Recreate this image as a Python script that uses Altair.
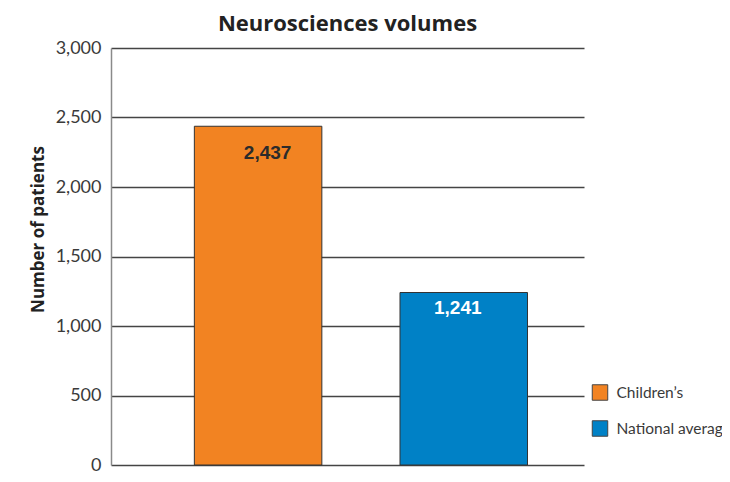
import altair as alt
import pandas as pd

groups = ["Children\u2019s", "National average"]
values = [2437, 1241]
labels = ["2,437", "1,241"]
colors = ["#F28322", "#0081C6"]
tick_values = [0, 500, 1000, 1500, 2000, 2500, 3000]

df = pd.DataFrame({"group": groups, "value": values, "label": labels})

x = alt.X("group:N", sort=groups, axis=None,
          scale=alt.Scale(paddingInner=0.38, paddingOuter=0.34, align=0.596))
y_scale = alt.Scale(domain=[0, 3000], nice=False)

bars = alt.Chart(df).mark_bar(stroke="#333333", strokeWidth=1).encode(
    x=x,
    y=alt.Y("value:Q", scale=y_scale,
            axis=alt.Axis(title="Number of patients", values=tick_values,
                          format=",.0f", grid=True, gridColor="#444444", gridWidth=1.3,
                          ticks=False, domainColor="#8a8a8a", domainWidth=1.5,
                          labelFont="Lato", labelFontSize=18, labelColor="#3a3a3a",
                          labelPadding=10,
                          titleFont="Open Sans", titleFontSize=17, titleFontWeight="bold",
                          titleColor="#222222", titleX=-73, titleY=181,
                          titleBaseline="middle", titleAngle=270)),
    color=alt.Color("group:N", sort=groups,
                    scale=alt.Scale(domain=groups, range=colors),
                    legend=alt.Legend(title=None, orient="none", legendX=480.5, legendY=336,
                                      symbolType="square", symbolSize=240,
                                      symbolStrokeColor="#444444", symbolStrokeWidth=1,
                                      symbolOpacity=1,
                                      labelFont="Lato", labelFontSize=15.5, labelColor="#3a3a3a",
                                      labelOffset=8, rowPadding=15, padding=0,
                                      labelLimit=300)),
)

t1 = alt.Chart(df).transform_filter(alt.datum.group == groups[0]).mark_text(
    font="Liberation Sans", fontWeight="bold", fontSize=19, color="#2b2b2b",
    baseline="middle", dx=9.5, dy=27).encode(x=x, y=alt.Y("value:Q", scale=y_scale), text="label:N")

t2 = alt.Chart(df).transform_filter(alt.datum.group == groups[1]).mark_text(
    font="Liberation Sans", fontWeight="bold", fontSize=19, color="#ffffff",
    baseline="middle", dx=-6, dy=15.5).encode(x=x, y=alt.Y("value:Q", scale=y_scale), text="label:N")

chart = alt.layer(bars, t1, t2).properties(
    width=473, height=417,
    title=alt.TitleParams("Neurosciences volumes", font="Open Sans", fontSize=22, fontWeight="bold",
                          color="#222222", anchor="middle", frame="group", offset=3),
    autosize=alt.AutoSizeParams(type="none"),
    padding={"left": 103, "top": 40, "right": 138, "bottom": 9},
).configure_view(stroke=None)

chart.save("out.html", embed_options={"renderer": "svg", "actions": False})
